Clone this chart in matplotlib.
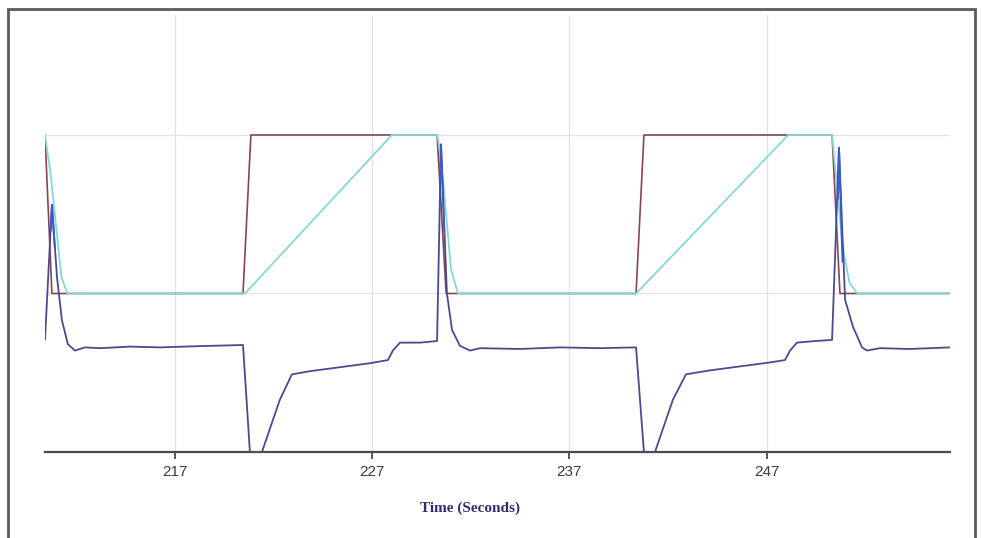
import numpy as np
import matplotlib
matplotlib.use("Agg")
import matplotlib.pyplot as plt
from matplotlib.lines import Line2D

# ---- data ----
xticks = [217, 227, 237, 247]
xtick_labels = ["217", "227", "237", "247"]

red_t = [210.41, 210.76, 220.45, 220.85, 230.29, 230.75, 240.38, 240.78, 250.32, 250.72, 256.3]
red_v = [2.0, 1.0, 1.0, 2.0, 2.0, 1.0, 1.0, 2.0, 2.0, 1.0, 1.0]

cyan_t = [210.41, 210.7, 210.95, 211.25, 211.55, 220.55, 228.0, 230.3, 230.5, 230.75,
          231.0, 231.35, 240.38, 248.1, 250.32, 250.55, 250.85, 251.2, 251.6, 256.3]
cyan_v = [2.0, 1.75, 1.45, 1.1, 1.0, 1.0, 2.0, 2.0, 1.85, 1.5,
          1.15, 1.0, 1.0, 2.0, 2.0, 1.7, 1.3, 1.07, 1.0, 1.0]

purple_t = [210.41, 210.76, 211.02, 211.27, 211.57, 211.93, 212.44, 213.2, 214.72, 216.24,
            218.27, 220.45, 220.80, 221.41, 222.32, 222.93, 223.85, 225.37, 226.89, 227.80,
            228.05, 228.41, 229.42, 230.29, 230.49, 230.79, 231.05, 231.45, 231.96, 232.47,
            234.50, 236.52, 238.55, 240.38, 240.78, 241.34, 242.25, 242.91, 244.13, 245.65,
            247.17, 247.93, 248.19, 248.54, 249.45, 250.32, 250.67, 250.98, 251.38, 251.84,
            252.09, 252.75, 254.27, 256.30]
purple_v = [0.71, 1.56, 1.10, 0.83, 0.68, 0.64, 0.66, 0.655, 0.665, 0.66,
            0.668, 0.675, 0.0, 0.0, 0.33, 0.49, 0.51, 0.535, 0.56, 0.58,
            0.64, 0.69, 0.69, 0.70, 1.94, 1.0, 0.77, 0.67, 0.64, 0.655,
            0.65, 0.66, 0.655, 0.66, 0.0, 0.0, 0.33, 0.49, 0.515, 0.54,
            0.565, 0.58, 0.64, 0.69, 0.70, 0.707, 1.92, 0.96, 0.79, 0.66,
            0.64, 0.655, 0.65, 0.66]

blue_t = [210.70, 210.76, 210.90, np.nan, 230.44, 230.49, 230.65, np.nan, 250.62, 250.67, 250.85]
blue_v = [1.40, 1.56, 1.30, np.nan, 1.70, 1.94, 1.40, np.nan, 1.60, 1.92, 1.20]

# ---- figure ----
W, H = 982, 538
fig = plt.figure(figsize=(W / 100, H / 100), dpi=100)
fig.patch.set_facecolor("white")

# outer frame (left, top, right)
fx0, fx1, fy1 = 7.5 / W, 975 / W, 1 - 9 / H
fig.add_artist(Line2D([fx0, fx0, fx1, fx1], [0, fy1, fy1, 0], transform=fig.transFigure,
                      color="#5a5a5a", lw=2.0, solid_joinstyle="miter"))

ax_left, ax_right = 45 / W, 950 / W
ax_bottom, ax_top = (H - 452) / H, (H - 15) / H
ax = fig.add_axes([ax_left, ax_bottom, ax_right - ax_left, ax_top - ax_bottom])

ax.set_xlim(210.41, 256.30)
ax.set_ylim(0, 2.757)

for s in ["left", "right", "top"]:
    ax.spines[s].set_visible(False)
ax.spines["bottom"].set_color("#4a4a4a")
ax.spines["bottom"].set_linewidth(1.6)

ax.set_xticks(xticks)
ax.set_xticklabels(xtick_labels, fontsize=11, color="#3a3a3a", family="Liberation Sans")
ax.tick_params(axis="x", direction="out", length=5, width=1.3, color="#4a4a4a", pad=4)
ax.set_yticks([1, 2])
ax.set_yticklabels([])
ax.tick_params(axis="y", length=0)
ax.grid(True, color="#e2e2e2", lw=0.9)
ax.set_axisbelow(True)

ax.plot(red_t, red_v, color="#8a4454", lw=1.2, zorder=3)
ax.plot(cyan_t, cyan_v, color="#85d8d6", lw=1.3, zorder=4)
ax.plot(purple_t, purple_v, color="#4c4a8e", lw=1.3, zorder=5)
ax.plot(blue_t, blue_v, color="#3a5ccc", lw=1.4, zorder=6)

fig.text(470 / W, 1 - 508 / H, "Time (Seconds)", ha="center", va="center",
         fontsize=11, fontweight="bold", family="Liberation Serif", color="#2e2e6e")

fig.savefig("out.png", dpi=100)
